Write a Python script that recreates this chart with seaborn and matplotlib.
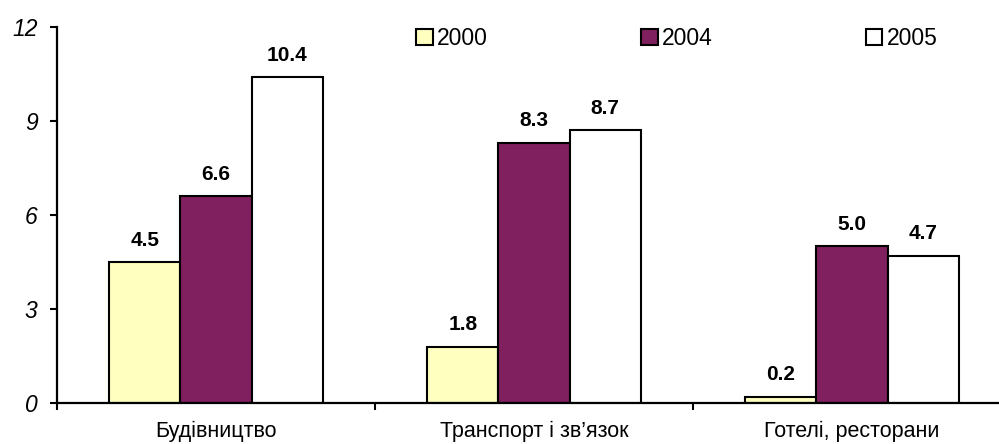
import matplotlib
matplotlib.use("Agg")
from matplotlib import pyplot as plt
import seaborn as sns
import pandas as pd

# data
categories = ['Будівництво', 'Транспорт і зв’язок', 'Готелі, ресторани']
years = ['2000', '2004', '2005']
values_2000 = [4.5, 1.8, 0.2]
values_2004 = [6.6, 8.3, 5.0]
values_2005 = [10.4, 8.7, 4.7]
colors = ['#FFFFC0', '#80205F', '#FFFFFF']

df = pd.DataFrame({'Галузь': categories * 3,
                   'Рік': [y for y in years for _ in categories],
                   'Значення': values_2000 + values_2004 + values_2005})

sns.set_style('white', {'text.color': 'black', 'xtick.color': 'black',
                        'ytick.color': 'black', 'axes.labelcolor': 'black'})
plt.rcParams['font.family'] = ['Liberation Sans', 'DejaVu Sans']

fig = plt.figure(figsize=(9.99, 4.44), dpi=100)
# axis runs off the right edge of the picture like in the reference
ax = fig.add_axes([57 / 999, (444 - 403) / 444, (1011 - 57) / 999, (403 - 27) / 444])

sns.barplot(data=df, x='Галузь', y='Значення', hue='Рік', order=categories,
            hue_order=years, palette=colors, width=0.67, gap=0,
            edgecolor='black', linewidth=1.5, saturation=1, ax=ax)

for cont in ax.containers:
    ax.bar_label(cont, fmt='%.1f', padding=9, fontsize=15, fontweight='bold', color='black')

ax.set_ylim(0, 12)
ax.set_xlim(-0.5, 2.5)
ax.set_yticks([0, 3, 6, 9, 12])
ax.set_yticklabels(['0', '3', '6', '9', '12'], fontsize=16.5, style='italic')
ax.set_xticks([0, 1, 2])
ax.set_xticklabels(categories, fontsize=15.5)
ax.tick_params(axis='x', length=0, pad=13, labelcolor='black')
ax.set_xticks([-0.5, 0.5, 1.5, 2.5], minor=True)
ax.tick_params(axis='x', which='minor', length=5, width=1.5, direction='out', bottom=True, color='black')
ax.tick_params(axis='y', length=5, width=1.5, direction='out', left=True, pad=9,
               color='black', labelcolor='black')
ax.set_xlabel('')
ax.set_ylabel('')

for side in ['top', 'right']:
    ax.spines[side].set_visible(False)
for side in ['left', 'bottom']:
    ax.spines[side].set_color('black')
    ax.spines[side].set_linewidth(1.6)

leg = ax.legend(loc='upper left', bbox_to_anchor=(416 / 999, 1 - 27 / 444),
                bbox_transform=fig.transFigure, ncol=3, frameon=False,
                fontsize=16.5, handlelength=0.72, handleheight=0.72, handletextpad=0.18,
                columnspacing=6.7, borderpad=0, borderaxespad=0, labelcolor='black')
for h in leg.legend_handles:
    h.set_linewidth(1.5)

fig.savefig('out.png', dpi=100)
